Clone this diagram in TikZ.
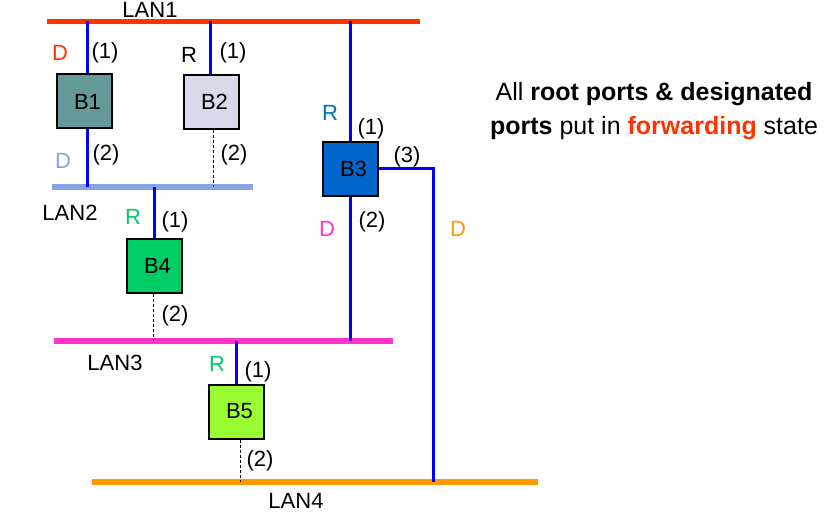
\documentclass[tikz,border=0pt]{standalone}
\usepackage{fontspec}
\setmainfont{Liberation Sans}
\definecolor{lanred}{HTML}{FF3300}
\definecolor{lanblue}{HTML}{87A2E6}
\definecolor{lanpink}{HTML}{FF33CC}
\definecolor{lanorange}{HTML}{FF9900}
\definecolor{portblue}{HTML}{0000FF}
\definecolor{bteal}{HTML}{669999}
\definecolor{blav}{HTML}{D9D9EC}
\definecolor{bblue}{HTML}{0066CC}
\definecolor{bgreen}{HTML}{00CC66}
\definecolor{blime}{HTML}{99FF33}
\definecolor{rblue}{HTML}{0070C0}
\begin{document}
\begin{tikzpicture}[x=1pt,y=-1pt,
  every node/.style={font=\fontsize{22}{25}\selectfont, inner sep=0pt},
  bridge/.style={draw=black, line width=2pt, minimum width=55pt, minimum height=54pt},
  lan/.style={line width=5.5pt},
  port/.style={draw=portblue, line width=3pt},
  blocked/.style={draw=black, line width=0.8pt, dash pattern=on 3pt off 2pt},
  lbl/.style={anchor=center}]
\useasboundingbox (0,0) rectangle (837,513);
% LANs
\coordinate (L1w) at (47,21.5);  \coordinate (L1e) at (420,21.5);
\coordinate (L2w) at (52,187);   \coordinate (L2e) at (253,187);
\coordinate (L3w) at (54,341);   \coordinate (L3e) at (393,341);
\coordinate (L4w) at (92,482);   \coordinate (L4e) at (538,482);
\draw[lan, lanred] (L1w) -- (L1e);
\draw[lan, lanblue] (L2w) -- (L2e);
\draw[lan, lanpink] (L3w) -- (L3e);
\draw[lan, lanorange] (L4w) -- (L4e);
\node[lbl] (t1) at (150,10) {LAN1};
\node[lbl] (t2) at (70,213) {LAN2};
\node[lbl] (t3) at (115,363) {LAN3};
\node[lbl] (t4) at (296,501) {LAN4};
% Bridges
\node[bridge, fill=bteal] (B1) at (84.5,101.5) {\hspace*{6pt}B1};
\node[bridge, fill=blav] (B2) at (211.5,102) {\hspace*{6pt}B2};
\node[bridge, fill=bblue] (B3) at (350.5,169) {\hspace*{6pt}B3};
\node[bridge, fill=bgreen] (B4) at (154.5,266) {\hspace*{6pt}B4};
\node[bridge, fill=blime] (B5) at (236.5,411.5) {\hspace*{6pt}B5};
% Ports
\draw[port] ([xshift=2.5pt]B1.north) -- ([xshift=2.5pt]B1.north |- L1w);
\draw[port] ([xshift=2.5pt]B1.south) -- ([xshift=2.5pt]B1.south |- L2w);
\draw[port] ([xshift=-1.5pt]B2.north) -- ([xshift=-1.5pt]B2.north |- L1w);
\draw[blocked] ([xshift=1.5pt]B2.south) -- ([xshift=1.5pt]B2.south |- L2w);
\draw[port] (B3.north) -- (B3.north |- L1w);
\draw[port] (B3.south) -- (B3.south |- L3w);
\coordinate (B3c) at (433,169);
\draw[port] (B3.east) -- (B3c) -- (B3c |- L4w);
\draw[port] (B4.north) -- (B4.north |- L2w);
\draw[blocked] ([xshift=-1.5pt]B4.south) -- ([xshift=-1.5pt]B4.south |- L3w);
\draw[port] (B5.north) -- (B5.north |- L3w);
\draw[blocked] ([xshift=3.5pt]B5.south) -- ([xshift=3.5pt]B5.south |- L4w);
% Port labels
\node[lbl, text=lanred] (d1) at (60,53) {D};
\node[lbl] (p11) at (105,53) {(1)};
\node[lbl, text=lanblue] (d12) at (63,161) {D};
\node[lbl] (p12) at (106,155) {(2)};
\node[lbl] (r2) at (189,55) {R};
\node[lbl] (p21) at (233,53) {(1)};
\node[lbl] (p22) at (234,155) {(2)};
\node[lbl, text=rblue] (r3) at (330,113) {R};
\node[lbl] (p31) at (371,129) {(1)};
\node[lbl] (p33) at (407,157) {(3)};
\node[lbl, text=lanpink] (d32) at (327,229) {D};
\node[lbl] (p32) at (372,222) {(2)};
\node[lbl, text=lanorange] (d33) at (458,229) {D};
\node[lbl, text=bgreen] (r4) at (133,217) {R};
\node[lbl] (p41) at (175,222) {(1)};
\node[lbl] (p42) at (175,316) {(2)};
\node[lbl, text=bgreen] (r5) at (217,364) {R};
\node[lbl] (p51) at (258,372) {(1)};
\node[lbl] (p52) at (260,461) {(2)};
% Note
\node[align=center, font=\fontsize{25}{34}\selectfont] (note) at (654,111)
  {All \textbf{root ports \& designated}\\\textbf{ports} put in \textcolor{lanred}{\textbf{forwarding}} state};
\end{tikzpicture}
\end{document}
